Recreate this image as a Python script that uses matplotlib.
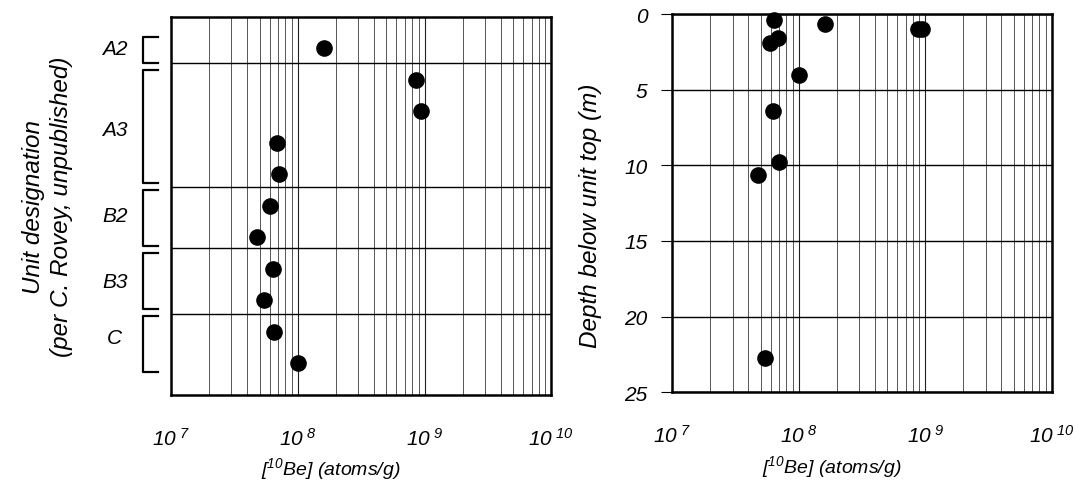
import numpy as np
import matplotlib
matplotlib.use('Agg')
import matplotlib.pyplot as plt
from matplotlib.ticker import LogLocator, FixedLocator, NullFormatter, FuncFormatter

plt.rcParams['font.family'] = 'Liberation Sans'
plt.rcParams['font.style'] = 'italic'
plt.rcParams['mathtext.fontset'] = 'custom'
plt.rcParams['mathtext.rm'] = 'Liberation Sans:italic'
plt.rcParams['mathtext.it'] = 'Liberation Sans:italic'

# 10Be concentrations by sample, top to bottom (atoms/g)
be_by_unit = [1.62e8, 8.6e8, 9.4e8, 6.8e7, 7.1e7, 6.0e7, 4.75e7, 6.35e7, 5.42e7, 6.46e7, 1.0e8]
sample_rank = np.arange(1, 12)

# unit boundaries (in sample-rank units) and brackets
unit_names = ['A2', 'A3', 'B2', 'B3', 'C']
unit_label_pos = [1.0, 3.57, 6.32, 8.41, 10.18]
unit_top = [0.64, 1.70, 5.50, 7.50, 9.49]
unit_bottom = [1.48, 5.28, 7.29, 9.28, 11.29]
unit_lines = [1.47, 5.42, 7.34, 9.44]

# same samples against depth below unit top (m)
be_by_depth = [6.37e7, 1.62e8, 8.75e8, 9.47e8, 6.85e7, 5.92e7, 1.0e8, 6.25e7, 6.97e7, 4.73e7, 5.41e7]
depth = [0.38, 0.66, 0.97, 0.97, 1.59, 1.90, 4.01, 6.43, 9.76, 10.66, 22.7]

fig = plt.figure(figsize=(10.85, 4.81), dpi=100)
ax1 = fig.add_axes([0.1576, 0.1773, 0.3505, 0.7859])
ax2 = fig.add_axes([0.6196, 0.1823, 0.3497, 0.7865])


def sci_label(v, pos):
    return r'$10^{\ %d}$' % int(round(np.log10(v)))


for ax in (ax1, ax2):
    ax.set_xscale('log')
    ax.set_xlim(1e7, 1e10)
    ax.xaxis.set_major_locator(LogLocator(base=10, numticks=10))
    ax.xaxis.set_minor_locator(LogLocator(base=10, subs=np.arange(2, 10), numticks=10))
    ax.xaxis.set_major_formatter(FuncFormatter(sci_label))
    ax.xaxis.set_minor_formatter(NullFormatter())
    ax.grid(True, which='major', axis='x', color='#222222', lw=0.8)
    ax.grid(True, which='minor', axis='x', color='#555555', lw=0.7)
    ax.tick_params(axis='x', which='both', length=0, pad=23, labelsize=15)
    for s in ax.spines.values():
        s.set_linewidth(1.8)
    ax.set_axisbelow(True)
    ax.set_xlabel(r'[$^{10}$Be] (atoms/g)', fontsize=14, labelpad=6)
    ax.xaxis.set_label_coords(0.42, -0.16)

# left panel: samples ordered by stratigraphic unit
ax1.scatter(be_by_unit, sample_rank, s=120, color='black', zorder=3, clip_on=False)
ax1.set_ylim(12, 0)
ax1.set_yticks([])
for yb in unit_lines:
    ax1.axhline(yb, color='black', lw=1.0)

trans = ax1.get_yaxis_transform()
for name, ypos, y0, y1 in zip(unit_names, unit_label_pos, unit_top, unit_bottom):
    ax1.plot([-0.034, -0.073, -0.073, -0.034], [y0, y0, y1, y1], color='black',
             lw=1.6, transform=trans, clip_on=False)
    ax1.text(-0.148, ypos, name, transform=trans, fontsize=15,
             ha='center', va='center')

fig.text(0.044, 0.57, 'Unit designation\n(per C. Rovey, unpublished)',
         rotation=90, fontsize=17.5, ha='center', va='center',
         multialignment='center', linespacing=1.3)

# right panel: depth profile
ax2.scatter(be_by_depth, depth, s=120, color='black', zorder=3, clip_on=False)
ax2.set_ylim(25, 0)
ax2.yaxis.set_major_locator(FixedLocator([0, 5, 10, 15, 20, 25]))
ax2.grid(True, which='major', axis='y', color='black', lw=1.0)
ax2.tick_params(axis='y', length=8, width=0.8, pad=10, labelsize=15)
ax2.set_ylabel('Depth below unit top (m)', fontsize=17.5, labelpad=8)
ax2.yaxis.set_label_coords(-0.185, 0.47)

fig.savefig('out.png', dpi=100)
